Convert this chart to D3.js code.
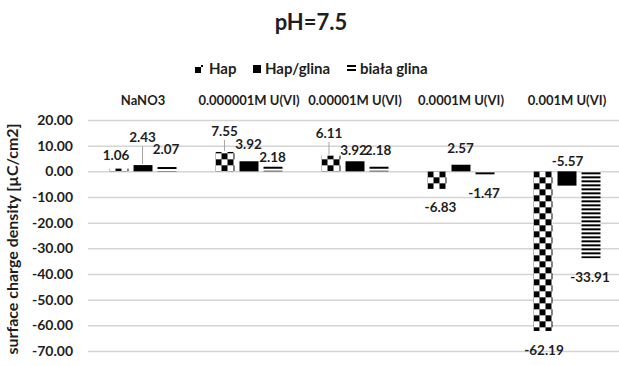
<!DOCTYPE html>
<html>
<head>
<meta charset="utf-8">
<script src="https://cdn.jsdelivr.net/npm/d3@7"></script>
<style>
  body { margin: 0; background: #fff; }
  svg { display: block; }
  text { font-family: Lato, "Open Sans", sans-serif; font-weight: bold; fill: #1e1e1e; }
</style>
</head>
<body>
<svg id="chart" width="619" height="366"></svg>
<script>
// Surface charge density at pH 7.5 for three sorbents across electrolyte / U(VI) conditions
const categories = ["NaNO3", "0.000001M U(VI)", "0.00001M U(VI)", "0.0001M U(VI)", "0.001M U(VI)"];
const seriesNames = ["Hap", "Hap/glina", "biała glina"];
const hap = [1.06, 7.55, 6.11, -6.83, -62.19];
const hapGlina = [2.43, 3.92, 3.92, 2.57, -5.57];
const bialaGlina = [2.07, 2.18, 2.18, -1.47, -33.91];
const yTicks = [20, 10, 0, -10, -20, -30, -40, -50, -60, -70];

const seriesValues = [hap, hapGlina, bialaGlina];

// Hand-placed data label offsets from each bar end: [dx, dy, leader line]
const labelPlacement = [
  [[-3, -13.6, 0], [-0.5, -21, 1], [-2, -22.6, 1], [3.5, 18, 0], [1, 19, 0]],
  [[-0.5, -28, 1], [-0.5, -17, 0], [-1.5, -11, 0], [-0.5, -16.7, 0], [0.5, -24.6, 0]],
  [[-1, -17, 0], [-0.5, -8.7, 0], [-1, -15.7, 0], [-1, 18, 0], [-1, 18.7, 0]]
];

// Plain hyphen for negative numbers
const fmt = d3.formatLocale({ decimal: ".", thousands: ",", grouping: [3], currency: ["", ""], minus: "-" }).format(".2f");

const svg = d3.select("#chart");
const plot = { left: 90, right: 620, top: 120, bottom: 351 };

const x = d3.scaleBand().domain(categories).range([plot.left, plot.right]).padding(0);
const xInner = d3.scaleBand().domain(seriesNames).range([-33.5, 33.5]).paddingInner(0.21).paddingOuter(0);
const y = d3.scaleLinear().domain([-70, 20]).range([plot.bottom, plot.top]);

const defs = svg.append("defs");

// Checkerboard fill for Hap, horizontal stripes for biała glina
function checker(id, ox, oy) {
  const p = defs.append("pattern").attr("id", id)
    .attr("patternUnits", "userSpaceOnUse")
    .attr("x", ox).attr("y", oy).attr("width", 12).attr("height", 12);
  p.append("rect").attr("width", 12).attr("height", 12).attr("fill", "#fff");
  p.append("rect").attr("width", 6).attr("height", 6).attr("fill", "#000");
  p.append("rect").attr("x", 6).attr("y", 6).attr("width", 6).attr("height", 6).attr("fill", "#000");
}
function stripes(id, ox, oy) {
  const p = defs.append("pattern").attr("id", id)
    .attr("patternUnits", "userSpaceOnUse")
    .attr("x", ox).attr("y", oy).attr("width", 8).attr("height", 4);
  p.append("rect").attr("width", 8).attr("height", 4).attr("fill", "#fff");
  p.append("rect").attr("y", 1).attr("width", 8).attr("height", 2).attr("fill", "#000");
}

// Title
svg.append("text").attr("x", 311).attr("y", 30).attr("text-anchor", "middle")
  .style("font-size", "22px").text("pH=7.5");

// Gridlines
svg.append("g").attr("transform", `translate(88,0)`)
  .call(d3.axisRight(y).tickValues(yTicks).tickSize(531).tickFormat(""))
  .call(g => g.select(".domain").remove())
  .call(g => g.selectAll("line").attr("stroke", "#d4d4d4").attr("stroke-width", 1.5));

// Y-axis tick labels
svg.append("g").attr("transform", `translate(88,0)`)
  .call(d3.axisLeft(y).tickValues(yTicks).tickSize(0).tickPadding(15).tickFormat(fmt))
  .call(g => g.select(".domain").remove())
  .call(g => g.selectAll("text").style("font-size", "14px").attr("fill", "#1e1e1e")
    .style("font-family", "Lato, 'Open Sans', sans-serif"));

// Category labels above the plot
svg.append("g").attr("transform", `translate(0,105)`)
  .call(d3.axisTop(x).tickSize(0).tickPadding(0))
  .call(g => g.select(".domain").remove())
  .call(g => g.selectAll("text").style("font-size", "13px").attr("fill", "#1e1e1e")
    .style("font-family", "Lato, 'Open Sans', sans-serif"));

// Y-axis title
svg.append("text")
  .attr("transform", "translate(18,239) rotate(-90)")
  .attr("text-anchor", "middle")
  .style("font-size", "16px")
  .text("surface charge density [µC/cm2]");

// Bars
const bars = svg.append("g");
const labels = svg.append("g");
seriesValues.forEach((vals, si) => {
  vals.forEach((v, ci) => {
    const cx = x(categories[ci]) + x.bandwidth() / 2;
    const bx = cx + xInner(seriesNames[si]);
    const bw = xInner.bandwidth();
    const y0 = y(0), y1 = y(v);
    const top = Math.min(y0, y1), h = Math.abs(y1 - y0);
    let fill = "#000";
    if (si === 0) { const id = `hap-${ci}`; checker(id, bx, y0); fill = `url(#${id})`; }
    if (si === 2) { const id = `bg-${ci}`; stripes(id, bx, top); fill = `url(#${id})`; }
    bars.append("rect").attr("x", bx).attr("y", top).attr("width", bw).attr("height", h).attr("fill", fill);

    const [dx, dy, leader] = labelPlacement[si][ci];
    const lx = bx + bw / 2 + dx, ly = y1 + dy;
    if (leader) {
      labels.append("line").attr("x1", lx).attr("x2", lx)
        .attr("y1", ly + 9).attr("y2", y1 - 1)
        .attr("stroke", "#a6a6a6").attr("stroke-width", 1);
    }
    labels.append("text").attr("x", lx).attr("y", ly).attr("dy", "0.35em")
      .attr("text-anchor", "middle").style("font-size", "13.5px")
      .text(fmt(v));
  });
});

// Legend
const legend = svg.append("g");
const legendItems = [
  { name: seriesNames[0], mx: 195, tx: 209 },
  { name: seriesNames[1], mx: 253, tx: 265 },
  { name: seriesNames[2], mx: 347, tx: 360 }
];
checker("leg-hap", 189, 61);
stripes("leg-bg", 347, 64);
legendItems.forEach((it, i) => {
  const fill = i === 0 ? "url(#leg-hap)" : i === 1 ? "#000" : "url(#leg-bg)";
  legend.append("rect").attr("x", it.mx).attr("y", 65).attr("width", i === 2 ? 9 : 8).attr("height", 8).attr("fill", fill);
  legend.append("text").attr("x", it.tx).attr("y", 69).attr("dy", "0.35em")
    .style("font-size", "15px").text(it.name);
});
</script>
</body>
</html>
